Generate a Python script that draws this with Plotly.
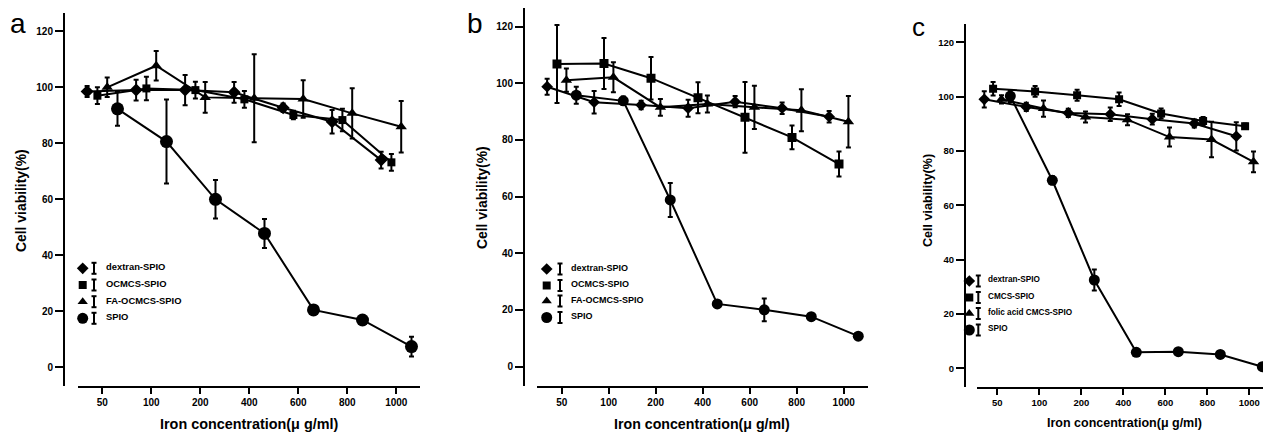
import numpy as np
import plotly.graph_objects as go

W, H = 1271, 437
OFF = 8  # page body margin of the browser
FW, FH = W - OFF, H - OFF

conc_labels = ["50", "100", "200", "400", "600", "800", "1000"]
y_ticks = [0, 20, 40, 60, 80, 100, 120]

# Panel a
a_names = ["dextran-SPIO", "OCMCS-SPIO", "FA-OCMCS-SPIO", "SPIO"]
a_dextran = [98.5, 99.0, 99.0, 98.2, 92.7, 87.7, 74.0]
a_dextran_err = [2.0, 3.7, 5.4, 3.7, 1.5, 4.2, 3.0]
a_ocmcs = [97.0, 99.6, 99.0, 95.7, 90.1, 88.3, 73.2]
a_ocmcs_err = [3.0, 4.2, 3.0, 3.0, 1.5, 4.0, 3.0]
a_fa = [100.0, 107.7, 96.4, 96.1, 95.8, 90.7, 85.9]
a_fa_err = [3.5, 5.3, 5.5, 15.7, 6.7, 9.0, 9.2]
a_spio = [92.3, 80.6, 60.0, 47.8, 20.5, 16.9, 7.4]
a_spio_err = [6.0, 15.0, 6.9, 5.2, 1.0, 1.0, 3.5]

# Panel b
b_names = ["dextran-SPIO", "OCMCS-SPIO", "FA-OCMCS-SPIO", "SPIO"]
b_dextran = [98.8, 93.3, 92.3, 91.2, 93.5, 91.2, 88.2]
b_dextran_err = [2.8, 4.0, 1.5, 3.0, 2.0, 2.0, 2.0]
b_ocmcs = [106.8, 107.0, 101.8, 94.9, 88.0, 80.9, 71.5]
b_ocmcs_err = [13.8, 9.0, 7.5, 5.5, 12.5, 4.2, 4.4]
b_fa = [101.1, 102.1, 91.5, 92.7, 91.5, 90.5, 86.4]
b_fa_err = [4.1, 5.3, 3.0, 3.0, 7.6, 7.4, 9.1]
b_spio = [95.8, 93.8, 58.8, 22.1, 20.0, 17.6, 10.7]
b_spio_err = [3.0, 1.5, 6.0, 1.0, 4.0, 1.0, 1.0]

# Panel c
c_names = ["dextran-SPIO", "CMCS-SPIO", "folic acid CMCS-SPIO", "SPIO"]
c_dextran = [99.0, 96.2, 94.0, 93.5, 91.7, 90.1, 85.4]
c_dextran_err = [3.0, 1.5, 1.5, 2.5, 2.0, 1.5, 5.2]
c_cmcs = [102.9, 101.9, 100.5, 99.0, 93.8, 91.0, 89.1]
c_cmcs_err = [2.5, 2.0, 2.0, 2.5, 1.8, 1.5, 1.0]
c_fa = [99.0, 95.6, 92.5, 91.5, 85.1, 84.2, 76.0]
c_fa_err = [1.5, 3.0, 2.0, 2.0, 3.5, 6.5, 3.8]
c_spio = [100.2, 69.2, 32.5, 5.9, 6.1, 5.1, 0.6]
c_spio_err = [2.2, 1.5, 3.9, 1.0, 1.0, 1.0, 1.0]

symbols = ["diamond", "square", "triangle-up", "circle"]
offsets = [-0.31, -0.10, 0.10, 0.31]

FONT = "Liberation Sans, Arial, sans-serif"


def px(x):
    return min(1.0, max(0.0, (x - OFF) / FW))


def py(y):
    return min(1.0, max(0.0, 1 - (y - OFF) / FH))


panels = [
    dict(letter="a", names=a_names,
         series=[(a_dextran, a_dextran_err), (a_ocmcs, a_ocmcs_err), (a_fa, a_fa_err), (a_spio, a_spio_err)],
         xdom=(78, 420), x0=102.3, dx=49.0, ydom=(13, 386), y0=367.3, dy=2.8, yaxis_x=64,
         msizes=[10, 8, 10, 13], tickfs=10, ytitlefs=13.9, xtitlefs=14.4,
         letter_pos=(8, 23, 28), ytitle=(21, 201), xtitle=(249, 424),
         leg=dict(mx=82.7, bx=94, tx=104, rows=[268.3, 285, 301.7, 318.3], fs=9.4)),
    dict(letter="b", names=b_names,
         series=[(b_dextran, b_dextran_err), (b_ocmcs, b_ocmcs_err), (b_fa, b_fa_err), (b_spio, b_spio_err)],
         xdom=(537.3, 868), x0=561.7, dx=47.0, ydom=(8, 386), y0=366.5, dy=2.832, yaxis_x=524,
         msizes=[9, 9, 10, 11], tickfs=10, ytitlefs=13.9, xtitlefs=14.2,
         letter_pos=(465, 24, 28), ytitle=(482, 197), xtitle=(702, 424),
         leg=dict(mx=546.7, bx=560, tx=569, rows=[269, 285.5, 301, 317.5], fs=9)),
    dict(letter="c", names=c_names,
         series=[(c_dextran, c_dextran_err), (c_cmcs, c_cmcs_err), (c_fa, c_fa_err), (c_spio, c_spio_err)],
         xdom=(976.7, 1267), x0=997.3, dx=42.0, ydom=(24, 386.7), y0=368.3, dy=2.717, yaxis_x=965,
         msizes=[9, 8, 10, 11], tickfs=9.5, ytitlefs=12.6, xtitlefs=12.5,
         letter_pos=(910, 27, 26), ytitle=(928, 200), xtitle=(1124, 423),
         leg=dict(mx=969.3, bx=978.3, tx=986, rows=[281, 297.5, 313.5, 330], fs=8.2)),
]

fig = go.Figure()
annotations = []
shapes = []
layout = {}

for i, p in enumerate(panels):
    k = "" if i == 0 else str(i + 1)
    xa, ya = "x" + k, "y" + k
    idx = np.arange(len(conc_labels))
    for s, ((vals, errs), sym, off, ms) in enumerate(zip(p["series"], symbols, offsets, p["msizes"])):
        fig.add_trace(go.Scatter(
            x=idx + off, y=vals, mode="lines+markers",
            line=dict(color="black", width=2),
            marker=dict(symbol=sym, size=ms, color="black"),
            error_y=dict(type="data", array=errs, visible=True, color="black", thickness=2, width=2.5),
            xaxis=xa, yaxis=ya, showlegend=False, name=p["names"][s]))
    xl, xr = p["xdom"]
    yt, yb = p["ydom"]
    xr_lo = (xl - p["x0"]) / p["dx"]
    xr_hi = (xr - p["x0"]) / p["dx"]
    yr_lo = (p["y0"] - yb) / p["dy"]
    yr_hi = (p["y0"] - yt) / p["dy"]
    layout["xaxis" + k] = dict(
        domain=[px(xl), px(xr)], range=[xr_lo, xr_hi], anchor=ya,
        tickvals=[int(v) for v in idx], ticktext=conc_labels,
        showline=True, linecolor="black", linewidth=2,
        ticks="outside", ticklen=6, tickwidth=2, tickcolor="black",
        showgrid=False, zeroline=False,
        tickfont=dict(family=FONT, size=p["tickfs"], color="black", weight="bold"))
    layout["yaxis" + k] = dict(
        domain=[py(yb), py(yt)], range=[yr_lo, yr_hi], anchor="free",
        position=px(p["yaxis_x"]), tickvals=y_ticks,
        showline=True, linecolor="black", linewidth=2,
        ticks="outside", ticklen=8, tickwidth=2, tickcolor="black",
        showgrid=False, zeroline=False,
        tickfont=dict(family=FONT, size=p["tickfs"], color="black", weight="bold"))
    lx, ly, lfs = p["letter_pos"]
    annotations.append(dict(text=p["letter"], x=px(lx), y=py(ly), xref="paper", yref="paper",
                            showarrow=False, xanchor="left", yanchor="middle",
                            font=dict(family=FONT, size=lfs, color="black")))
    tx, ty = p["ytitle"]
    annotations.append(dict(text="Cell viability(%)", x=px(tx), y=py(ty), xref="paper", yref="paper",
                            showarrow=False, textangle=-90, xanchor="center", yanchor="middle",
                            font=dict(family=FONT, size=p["ytitlefs"], color="black", weight="bold")))
    tx, ty = p["xtitle"]
    annotations.append(dict(text="Iron concentration(\u03bc g/ml)", x=px(tx), y=py(ty),
                            xref="paper", yref="paper", showarrow=False,
                            xanchor="center", yanchor="middle",
                            font=dict(family=FONT, size=p["xtitlefs"], color="black", weight="bold")))
    # custom legend
    lg = p["leg"]
    for s, name in enumerate(p["names"]):
        ry = lg["rows"][s]
        fig.add_trace(go.Scatter(x=[lg["mx"]], y=[ry], mode="markers",
                                 marker=dict(symbol=symbols[s], size=[9, 8, 9, 11][s], color="black"),
                                 xaxis="x10", yaxis="y10", showlegend=False, hoverinfo="skip"))
        bx = lg["bx"]
        for (x0_, y0_, x1_, y1_) in [(bx, ry - 5.5, bx, ry + 5.5), (bx - 2.5, ry - 5.5, bx + 2.5, ry - 5.5),
                                     (bx - 2.5, ry + 5.5, bx + 2.5, ry + 5.5)]:
            shapes.append(dict(type="line", xref="x10", yref="y10", x0=x0_, y0=y0_, x1=x1_, y1=y1_,
                               line=dict(color="black", width=2)))
        annotations.append(dict(text=name, x=px(lg["tx"]), y=py(ry - 1.5), xref="paper", yref="paper",
                                showarrow=False, xanchor="left", yanchor="middle",
                                font=dict(family=FONT, size=lg["fs"], color="black", weight="bold")))

# overlay axis in page-pixel units (for the hand-drawn legend keys)
layout["xaxis10"] = dict(domain=[0, 1], range=[OFF, W], visible=False, anchor="y10")
layout["yaxis10"] = dict(domain=[0, 1], range=[H, OFF], visible=False, anchor="x10")

fig.update_layout(
    width=FW, height=FH, margin=dict(l=0, r=0, t=0, b=0),
    paper_bgcolor="white", plot_bgcolor="rgba(0,0,0,0)",
    annotations=annotations, shapes=shapes, showlegend=False,
    **layout)

fig.write_html("out.html")
